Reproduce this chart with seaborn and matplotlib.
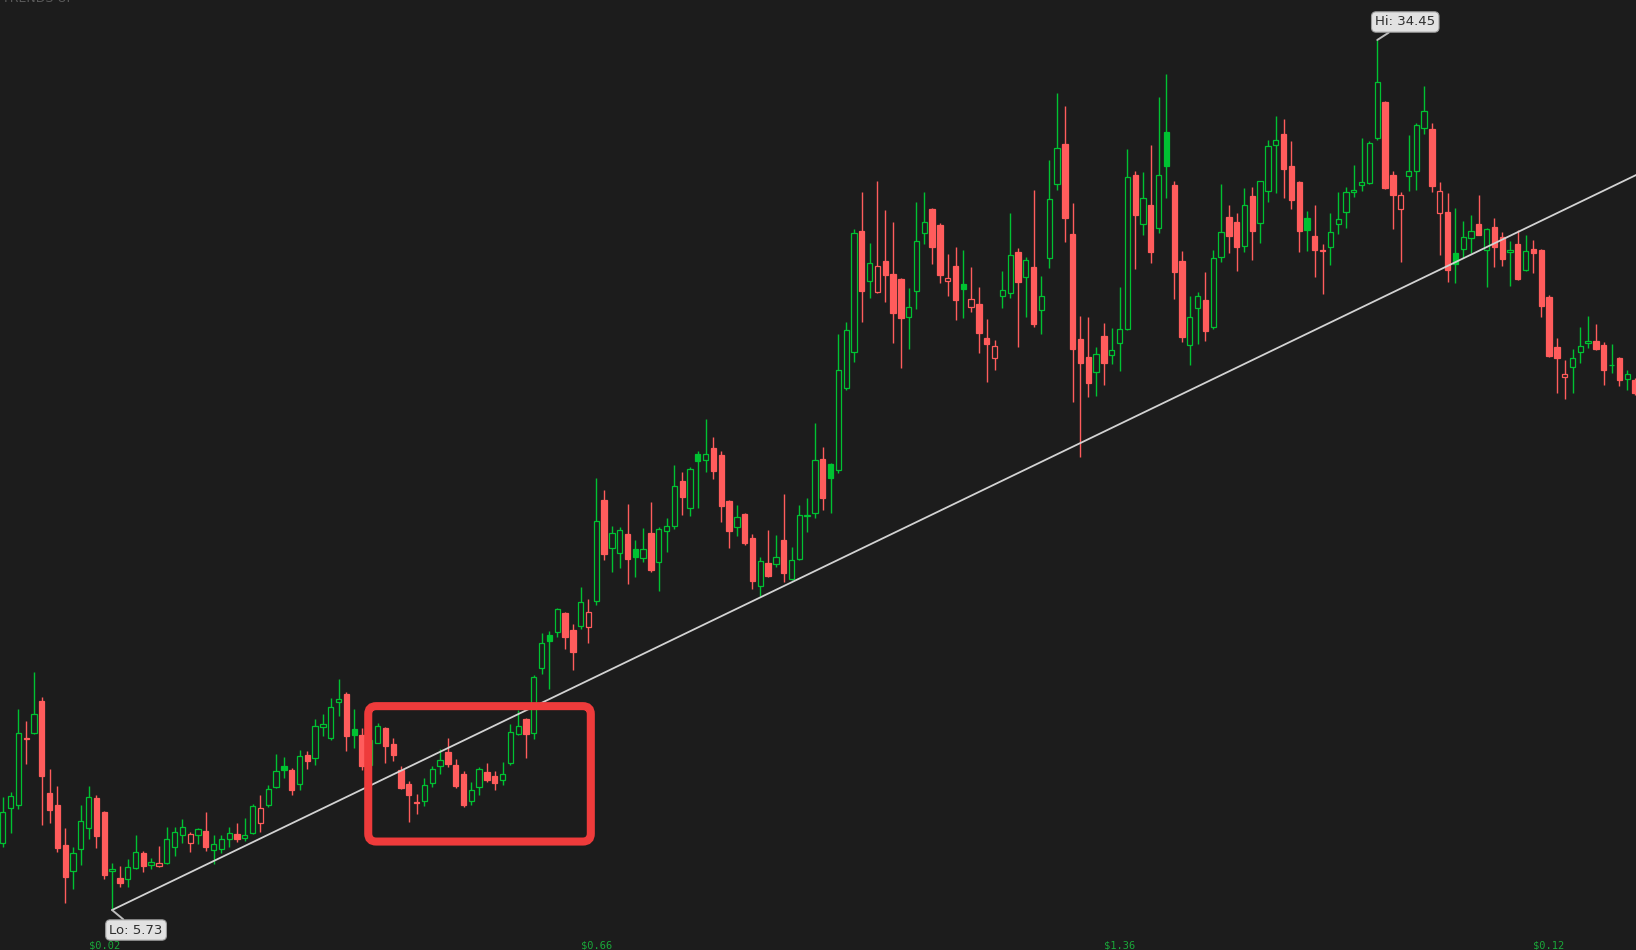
import numpy as np
import pandas as pd
import matplotlib
matplotlib.use("Agg")
import matplotlib.pyplot as plt
from matplotlib.patches import FancyBboxPatch
import seaborn as sns

# === Daily OHLC (one value per session) ===
opens = [
    7.93, 9.11, 9.21, 11.41, 11.58, 12.63, 9.59, 9.20, 7.88, 7.01,
    7.73, 8.45, 9.43, 8.97, 7.01, 6.79, 6.74, 7.13, 7.60, 7.21,
    7.19, 7.27, 7.82, 8.20, 7.93, 8.20, 8.34, 7.70, 7.75, 8.06,
    8.24, 8.10, 8.26, 8.59, 9.19, 9.80, 10.48, 10.35, 9.88, 10.85,
    10.74, 11.78, 11.42, 12.61, 12.86, 11.70, 11.50, 10.52, 11.25, 11.73,
    11.21, 10.35, 9.88, 9.30, 9.34, 9.93, 10.47, 10.95, 10.52, 10.22,
    9.34, 9.78, 10.29, 10.15, 10.03, 10.57, 11.55, 12.04, 11.58, 13.73,
    14.80, 14.92, 15.54, 14.97, 15.10, 15.06, 15.92, 19.26, 17.69, 17.51,
    18.14, 17.64, 17.34, 18.18, 17.23, 18.23, 18.40, 19.89, 18.99, 20.78,
    20.58, 20.97, 20.75, 19.23, 18.37, 18.80, 18.01, 16.42, 17.19, 17.14,
    17.95, 16.67, 17.31, 18.74, 18.83, 20.62, 20.44, 20.25, 22.97, 24.16,
    28.15, 26.51, 26.14, 27.16, 26.73, 26.56, 25.30, 26.16, 28.07, 28.86,
    28.34, 26.49, 26.98, 26.40, 25.65, 25.74, 24.60, 23.96, 25.99, 26.11,
    27.45, 26.61, 26.96, 25.55, 27.24, 29.69, 31.02, 28.05, 24.58, 23.99,
    23.48, 24.68, 24.06, 24.46, 24.90, 30.00, 28.37, 29.01, 28.24, 31.42,
    29.67, 27.16, 24.37, 25.60, 25.87, 24.99, 27.30, 28.61, 28.44, 27.64,
    29.30, 28.40, 29.46, 30.98, 31.35, 30.29, 29.76, 28.57, 27.98, 27.51,
    27.60, 28.37, 28.78, 29.42, 29.66, 29.74, 31.21, 32.41, 30.00, 28.88,
    29.97, 30.14, 31.54, 31.51, 28.75, 28.77, 27.42, 27.56, 27.93, 28.38,
    27.51, 28.28, 27.95, 27.44, 27.72, 26.87, 27.55, 27.52, 25.97, 24.32,
    23.32, 23.65, 24.14, 24.44, 24.52, 24.38, 23.72, 23.95, 23.25, 23.23,
]
highs = [
    9.47, 9.64, 12.36, 11.96, 13.58, 12.77, 10.38, 9.81, 8.43, 7.80,
    9.19, 9.81, 9.52, 8.99, 7.29, 7.19, 7.40, 8.20, 7.69, 7.44,
    7.83, 8.46, 8.48, 8.72, 8.32, 8.43, 8.96, 8.20, 8.21, 8.46,
    8.59, 8.76, 9.22, 9.53, 9.86, 10.87, 10.79, 10.41, 11.01, 10.99,
    12.03, 12.20, 12.72, 13.35, 12.92, 12.36, 11.74, 11.51, 11.89, 11.76,
    11.40, 10.48, 9.99, 9.55, 10.08, 10.47, 11.05, 11.41, 10.72, 10.31,
    9.96, 10.44, 10.58, 10.31, 10.61, 11.87, 12.33, 12.08, 13.49, 14.87,
    14.95, 15.69, 15.56, 15.16, 16.38, 16.01, 19.98, 19.59, 18.41, 18.37,
    19.12, 17.94, 18.33, 19.20, 18.37, 18.66, 20.41, 20.18, 20.35, 20.88,
    21.93, 21.35, 20.88, 19.27, 19.09, 18.85, 18.13, 17.37, 18.28, 18.11,
    19.45, 17.72, 19.09, 19.32, 21.80, 21.01, 20.48, 24.75, 25.15, 28.20,
    29.42, 27.74, 29.79, 28.83, 28.43, 26.58, 26.26, 29.09, 29.42, 28.89,
    28.40, 27.38, 27.61, 27.51, 26.95, 26.29, 25.23, 24.55, 26.82, 28.73,
    27.58, 27.30, 29.49, 26.67, 30.48, 32.69, 32.26, 29.08, 25.33, 25.30,
    24.31, 25.10, 24.93, 26.29, 30.84, 30.12, 30.09, 30.98, 32.56, 33.32,
    29.80, 27.48, 25.99, 26.12, 26.78, 27.51, 29.69, 29.00, 28.73, 29.56,
    29.60, 29.81, 31.15, 31.93, 31.83, 31.12, 29.80, 28.80, 29.00, 27.70,
    28.73, 29.42, 29.59, 30.33, 31.21, 31.10, 34.45, 32.44, 30.11, 29.42,
    31.31, 31.70, 32.92, 31.70, 29.76, 29.39, 28.90, 28.48, 28.67, 29.34,
    28.23, 28.58, 28.11, 27.82, 28.18, 28.00, 27.85, 27.55, 26.04, 24.60,
    23.88, 24.24, 24.97, 25.34, 25.08, 24.47, 24.42, 23.98, 23.56, 23.29,
]
lows = [
    7.80, 8.26, 9.07, 10.54, 11.55, 8.53, 8.59, 7.64, 5.97, 6.42,
    7.21, 8.06, 7.77, 6.76, 5.73, 6.50, 6.50, 7.09, 6.98, 7.07,
    7.16, 7.25, 7.51, 7.93, 7.64, 7.91, 7.69, 7.25, 7.60, 7.82,
    7.97, 8.00, 8.24, 8.32, 9.14, 9.75, 10.08, 9.52, 9.69, 10.38,
    10.51, 11.48, 11.34, 12.15, 10.99, 11.07, 10.35, 10.42, 11.23, 10.57,
    10.64, 9.73, 8.65, 8.89, 9.16, 9.78, 10.21, 10.46, 9.75, 9.12,
    9.19, 9.52, 9.95, 9.68, 9.85, 10.53, 11.52, 10.74, 11.37, 13.51,
    13.02, 14.73, 14.34, 13.65, 15.00, 14.54, 15.79, 17.28, 16.88, 17.01,
    16.48, 16.73, 17.23, 16.90, 16.26, 17.56, 18.30, 18.76, 18.73, 18.99,
    20.19, 19.97, 18.53, 17.67, 18.08, 17.77, 16.32, 16.11, 16.71, 17.04,
    16.57, 16.63, 17.29, 18.20, 18.68, 18.93, 18.83, 20.16, 22.90, 23.81,
    25.15, 25.92, 26.09, 25.79, 24.46, 23.61, 24.24, 25.56, 27.71, 27.05,
    26.43, 26.00, 25.20, 25.27, 25.48, 24.11, 23.17, 23.54, 25.60, 25.92,
    24.31, 25.30, 24.99, 24.75, 26.92, 29.50, 27.79, 22.49, 20.68, 22.66,
    22.69, 23.05, 23.75, 23.52, 24.88, 26.88, 28.00, 27.08, 28.09, 29.23,
    25.89, 24.49, 23.71, 24.41, 24.51, 24.92, 27.13, 27.43, 26.82, 27.46,
    27.18, 27.76, 29.09, 29.39, 29.23, 28.86, 27.46, 27.50, 26.62, 26.06,
    27.01, 28.04, 28.24, 29.26, 29.48, 29.69, 31.15, 29.52, 28.20, 27.13,
    29.46, 29.50, 31.34, 29.42, 27.34, 26.47, 26.44, 27.26, 27.41, 28.00,
    26.29, 26.94, 26.98, 26.32, 26.54, 26.83, 26.75, 25.30, 23.98, 22.79,
    22.59, 22.79, 23.78, 24.27, 24.23, 23.07, 23.45, 23.04, 22.89, 22.73,
]
closes = [
    8.96, 9.48, 11.56, 11.39, 12.19, 10.16, 9.04, 7.79, 6.82, 7.60,
    8.66, 9.45, 8.18, 6.89, 7.07, 6.63, 7.14, 7.64, 7.19, 7.31,
    7.27, 8.06, 8.30, 8.46, 8.23, 8.39, 7.82, 7.90, 8.06, 8.26,
    8.08, 8.20, 9.15, 9.09, 9.72, 10.31, 10.36, 9.70, 10.80, 10.66,
    11.80, 11.88, 12.42, 12.69, 11.48, 11.52, 10.49, 11.34, 11.80, 11.15,
    10.86, 9.77, 9.54, 9.27, 9.85, 10.39, 10.68, 10.56, 9.83, 9.20,
    9.68, 10.39, 10.02, 9.93, 10.21, 11.60, 11.80, 11.55, 13.41, 14.54,
    14.61, 15.66, 14.75, 14.26, 15.89, 15.56, 18.56, 17.49, 18.17, 18.27,
    17.33, 17.37, 17.64, 16.96, 18.31, 18.40, 19.72, 19.38, 20.28, 20.56,
    20.78, 20.23, 19.08, 18.25, 18.69, 17.86, 16.60, 17.24, 16.77, 17.37,
    16.87, 17.28, 18.76, 18.77, 20.58, 19.34, 20.00, 23.55, 24.87, 28.07,
    26.18, 27.08, 26.98, 26.70, 25.45, 25.28, 25.63, 27.81, 28.43, 27.60,
    26.70, 26.59, 25.88, 26.24, 25.89, 24.79, 24.43, 24.34, 26.19, 27.34,
    26.47, 27.19, 25.09, 26.00, 29.19, 30.88, 28.59, 24.26, 23.80, 23.14,
    24.08, 23.80, 24.21, 24.90, 29.92, 28.68, 29.23, 27.46, 29.99, 30.30,
    26.80, 24.66, 25.30, 25.99, 24.86, 27.25, 28.10, 27.99, 27.63, 29.00,
    28.16, 29.79, 30.94, 31.14, 30.20, 29.18, 28.16, 28.19, 27.53, 27.50,
    28.10, 28.53, 29.42, 29.49, 29.76, 31.04, 33.06, 29.58, 29.34, 29.33,
    30.12, 31.64, 32.10, 29.64, 29.46, 26.86, 27.06, 27.94, 28.15, 28.02,
    28.20, 27.60, 27.23, 27.51, 26.56, 27.49, 27.43, 25.68, 24.03, 23.96,
    23.42, 23.94, 24.34, 24.51, 24.25, 23.54, 23.73, 23.24, 23.42, 22.80,
]

# dividend markers along the bottom (candle index, label)
marker_pos = [13, 76, 143, 198]
marker_labels = ["$0.02", "$0.66", "$1.36", "$0.12"]

# trendline drawn from the low
trend_x = [14, 209.2]
trend_y = [5.73, 30.0]

# highlighted consolidation box (candle range, price range)
box_x = [46.8, 75.3]
box_y = [7.99, 12.46]

# extreme labels
lo_idx, lo_val = 14, 5.73
hi_idx, hi_val = 176, 34.45

# === Styling ===
BG = "#1c1c1c"
GREEN = "#00c232"
RED = "#ff5c5c"

sns.set_theme(style="dark", rc={"axes.facecolor": BG, "figure.facecolor": BG})
plt.rcParams["font.family"] = ["DejaVu Sans"]

df = pd.DataFrame({"open": opens, "high": highs, "low": lows, "close": closes})
df["idx"] = np.arange(len(df))
prev_close = df["close"].shift(1).fillna(df["open"])
df["color"] = np.where(df["close"] >= prev_close, GREEN, RED)
df["hollow"] = df["close"] >= df["open"]

fig = plt.figure(figsize=(16.36, 9.5), dpi=100)
ax = fig.add_axes([0, 0, 1, 1])
ax.set_facecolor(BG)

# wicks first, bodies on top so hollow candles hide the wick inside
ax.vlines(df["idx"], df["low"], df["high"], colors=df["color"], linewidth=1.0, zorder=2)
body_bottom = df[["open", "close"]].min(axis=1)
body_height = (df["close"] - df["open"]).abs()
faces = np.where(df["hollow"], BG, df["color"])
ax.bar(df["idx"], body_height, bottom=body_bottom, width=0.68,
       color=faces, edgecolor=df["color"], linewidth=0.9, zorder=3)

# trendline
sns.lineplot(x=trend_x, y=trend_y, ax=ax, color="#d2d2d2", linewidth=1.3,
             zorder=4, legend=False)

# axis ranges chosen so the chart fills the whole canvas
xmin, xmax = -0.35, 209.13
ymin, ymax = 4.41, 35.77
ax.set_xlim(xmin, xmax)
ax.set_ylim(ymin, ymax)

# red highlight box with rounded corners
x_per_px = (xmax - xmin) / 1636
y_per_px = (ymax - ymin) / 950
box = FancyBboxPatch((box_x[0], box_y[0]), box_x[1] - box_x[0], box_y[1] - box_y[0],
                     boxstyle=f"round,pad=0,rounding_size={8 * x_per_px:.3f}",
                     mutation_aspect=y_per_px / x_per_px,
                     fill=False, edgecolor="#ee3b3b", linewidth=5.8, zorder=5)
ax.add_patch(box)

# Lo / Hi callouts
label_box = dict(boxstyle="round,pad=0.28,rounding_size=0.35", fc="#e2e2e2", ec="#9c9c9c", lw=0.8)
pointer = dict(arrowstyle="-", color="#bdbdbd", lw=1.4, shrinkA=0, shrinkB=0)
ax.annotate(f"Lo: {lo_val:.2f}", xy=(lo_idx, lo_val), xytext=(24, -20),
            textcoords="offset pixels", ha="center", va="center", fontsize=9.5,
            color="#2e2e2e", bbox=label_box, arrowprops=pointer, zorder=6)
ax.annotate(f"Hi: {hi_val:.2f}", xy=(hi_idx, hi_val), xytext=(28, 18),
            textcoords="offset pixels", ha="center", va="center", fontsize=9.5,
            color="#2e2e2e", bbox=label_box, arrowprops=pointer, zorder=6)

# dividend labels on the bottom edge
for pos, lab in zip(marker_pos, marker_labels):
    ax.text(pos, 0.0047, lab, transform=ax.get_xaxis_transform(), ha="center",
            va="center", fontsize=7.5, family="DejaVu Sans Mono", color="#1aa83a")

# faint title cut off at the top edge (as in the source screenshot)
fig.text(0.001, 1 - 2 / 950, "TRENDS UP", ha="left", va="baseline",
         fontsize=9, color="#5a5a5a")

ax.grid(False)
ax.set_xticks([])
ax.set_yticks([])
for side in ax.spines.values():
    side.set_visible(False)

fig.savefig("out.png", dpi=100, facecolor=BG)
